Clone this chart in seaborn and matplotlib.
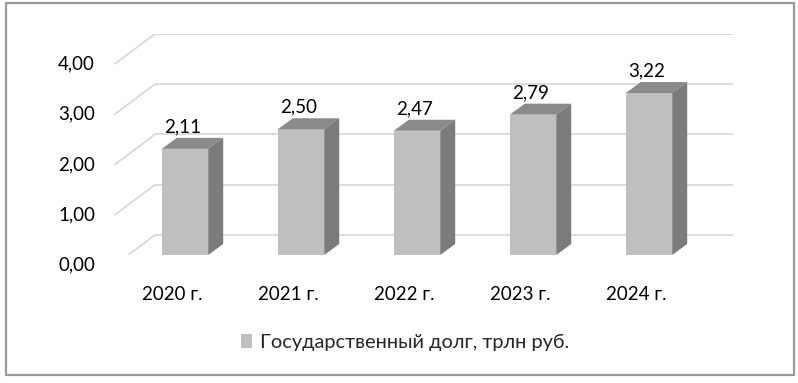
import numpy as np
import pandas as pd
import matplotlib
matplotlib.use("Agg")
import matplotlib.pyplot as plt
import seaborn as sns
from matplotlib.patches import Polygon, Rectangle, Patch
from matplotlib.transforms import offset_copy, IdentityTransform

# ---- data ----
categories = ["2020 г.", "2021 г.", "2022 г.", "2023 г.", "2024 г."]
values = [2.11, 2.50, 2.47, 2.79, 3.22]
value_labels = ["2,11", "2,50", "2,47", "2,79", "3,22"]
y_ticks = [0, 1, 2, 3, 4]
y_tick_labels = ["0,00", "1,00", "2,00", "3,00", "4,00"]
series_name = "Государственный долг, трлн руб."

FRONT = "#BFBFBF"
TOP = "#8A8A8A"
SIDE = "#7B7B7B"
GRID = "#D9D9D9"

sns.set_theme(style="white")
plt.rcParams["font.family"] = ["Lato", "Open Sans", "DejaVu Sans"]

W, H = 798, 383
fig = plt.figure(figsize=(W / 100, H / 100), dpi=100)

# axes: data y=0 at pixel 255 from top, 50.3 px per unit; category spacing 116 px
px_unit = 50.3
ax_left, ax_right = 100, 740
ax_bottom = H - 255
ax_h = 221
ax = fig.add_axes([ax_left / W, ax_bottom / H, (ax_right - ax_left) / W, ax_h / H])
x0c, step = 185, 116
ax.set_xlim((ax_left - x0c) / step, (ax_right - x0c) / step)
ax.set_ylim(0, ax_h / px_unit)
ax.axis("off")

df = pd.DataFrame({"cat": categories, "val": values})
sns.barplot(data=df, x="cat", y="val", color=FRONT, width=0.4, ax=ax,
            saturation=1, edgecolor="none", zorder=3, native_scale=False)
ax.set_xlim((ax_left - x0c) / step, (ax_right - x0c) / step)
ax.set_ylim(0, ax_h / px_unit)

# back wall grid: offset 20 px up from front plane; left wall diagonals
back = offset_copy(ax.transData, fig=fig, x=0, y=20, units="dots")
for v in y_ticks:
    xa = (155 - x0c) / step
    xb = (733 - x0c) / step
    ax.plot([xa, xb], [v, v], color=GRID, lw=1.3, transform=back, zorder=1, solid_capstyle="butt")
    p_back = back.transform((xa, v))
    p_front = p_back + np.array([-40, -30])
    ax.add_line(plt.Line2D([p_front[0], p_back[0]], [p_front[1], p_back[1]],
                           transform=IdentityTransform(), color=GRID, lw=1.3, zorder=1))

# 3D faces of bars
dx, dy = 15, 11
fig.canvas.draw()
for patch in ax.patches:
    x = patch.get_x()
    w = patch.get_width()
    h = patch.get_height()
    (X0, Y0) = ax.transData.transform((x, 0))
    (X1, Y1) = ax.transData.transform((x + w, h))
    top = Polygon([[X0, Y1], [X1, Y1], [X1 + dx, Y1 + dy], [X0 + dx, Y1 + dy]],
                  closed=True, transform=IdentityTransform(), facecolor=TOP,
                  edgecolor="none", zorder=3)
    side = Polygon([[X1, Y0], [X1 + dx, Y0 + dy], [X1 + dx, Y1 + dy], [X1, Y1]],
                   closed=True, transform=IdentityTransform(), facecolor=SIDE,
                   edgecolor="none", zorder=3)
    ax.add_patch(top)
    ax.add_patch(side)

# value labels
lbl_tr = offset_copy(ax.transData, fig=fig, x=-2, y=22, units="dots")
for i, (v, s) in enumerate(zip(values, value_labels)):
    ax.text(i, v, s, transform=lbl_tr, ha="center", va="center",
            fontsize=13.5, color="#000000", zorder=5)

# category labels
cat_tr = offset_copy(ax.transData, fig=fig, x=-13, y=-40, units="dots")
for i, c in enumerate(categories):
    ax.text(i, 0, c, transform=cat_tr, ha="center", va="center",
            fontsize=13.5, color="#000000")

# y tick labels on the front-left edge (10 px below front plane)
ytr = offset_copy(ax.transData, fig=fig, x=0, y=-10, units="dots")
xlab = (95 - x0c) / step
for v, s in zip(y_ticks, y_tick_labels):
    ax.text(xlab, v, s, transform=ytr, ha="right", va="center",
            fontsize=13.5, color="#000000")

# legend
fig.legend(handles=[Patch(facecolor=FRONT, edgecolor="none")], labels=[series_name],
           loc="center", bbox_to_anchor=(405 / W, 1 - 342 / H), frameon=False,
           handlelength=0.55, handleheight=0.7, handletextpad=0.4, fontsize=14.4)

# outer frame
fig.patches.append(Rectangle((6 / W, 1 - 375 / H), 788 / W, 372 / H,
                             transform=fig.transFigure, fill=False,
                             edgecolor="#9A9A9A", lw=1.6))

fig.savefig("out.png", dpi=100)
